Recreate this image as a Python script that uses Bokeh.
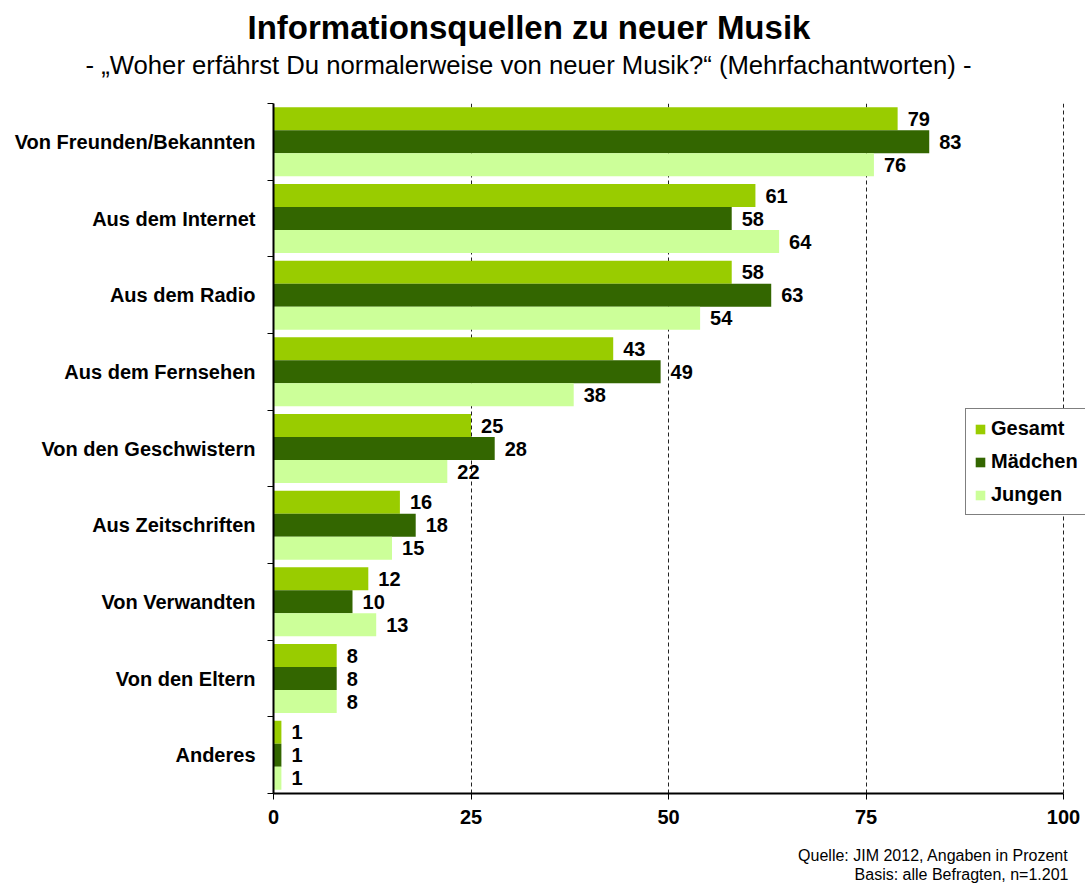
from bokeh.plotting import figure
from bokeh.models import Range1d, FixedTicker, Legend, LegendItem, ColumnDataSource, Title
from bokeh.transform import dodge
from bokeh.core.properties import value
from bokeh.embed import file_html
from bokeh.resources import INLINE

categories = ["Von Freunden/Bekannten", "Aus dem Internet", "Aus dem Radio",
              "Aus dem Fernsehen", "Von den Geschwistern", "Aus Zeitschriften",
              "Von Verwandten", "Von den Eltern", "Anderes"]
gesamt = [79, 61, 58, 43, 25, 16, 12, 8, 1]
maedchen = [83, 58, 63, 49, 28, 18, 10, 8, 1]
jungen = [76, 64, 54, 38, 22, 15, 13, 8, 1]
series_names = ["Gesamt", "Mädchen", "Jungen"]
series_colors = ["#99CC00", "#336600", "#CCFF99"]
x_ticks = [0, 25, 50, 75, 100]

title_text = "Informationsquellen zu neuer Musik"
subtitle_text = "- \u201eWoher erfährst Du normalerweise von neuer Musik?\u201c (Mehrfachantworten) -"
source_text = "Quelle: JIM 2012, Angaben in Prozent"
basis_text = "Basis: alle Befragten, n=1.201"

FONT = "Liberation Sans"
n = len(categories)
centers = [i + 0.5 for i in range(n)]

p = figure(width=1085, height=886, output_backend="svg", toolbar_location=None,
           x_range=Range1d(0, 102.78), y_range=Range1d(n, 0),
           min_border_left=273, min_border_right=0, min_border_top=103,
           min_border_bottom=93)
p.outline_line_color = None
p.background_fill_color = "white"
p.border_fill_color = "white"

# x axis
p.xaxis.ticker = FixedTicker(ticks=x_ticks)
p.xaxis.bounds = (0, 100)
p.xaxis.axis_line_width = 2
p.xaxis.axis_line_color = "black"
p.xaxis.major_tick_line_color = "black"
p.xaxis.major_tick_line_width = 1
p.xaxis.major_tick_out = 6
p.xaxis.major_tick_in = 0
p.xaxis.minor_tick_line_color = None
p.xaxis.major_label_text_font = FONT
p.xaxis.major_label_text_font_style = "bold"
p.xaxis.major_label_text_font_size = "20px"
p.xaxis.major_label_text_color = "black"
p.xaxis.major_label_standoff = 10

# y axis
p.yaxis.ticker = FixedTicker(ticks=centers, minor_ticks=list(range(n + 1)))
p.yaxis.major_label_overrides = {c: lab for c, lab in zip(centers, categories)}
p.yaxis.axis_line_width = 2
p.yaxis.axis_line_color = "black"
p.yaxis.major_tick_line_color = None
p.yaxis.major_tick_out = 0
p.yaxis.major_tick_in = 0
p.yaxis.minor_tick_line_color = "black"
p.yaxis.minor_tick_out = 6
p.yaxis.minor_tick_in = 0
p.yaxis.major_label_text_font = FONT
p.yaxis.major_label_text_font_style = "bold"
p.yaxis.major_label_text_font_size = "20px"
p.yaxis.major_label_text_color = "black"
p.yaxis.major_label_standoff = 12

# grid
p.ygrid.grid_line_color = None
p.xgrid.ticker = FixedTicker(ticks=x_ticks[1:])
p.xgrid.grid_line_color = "#222222"
p.xgrid.grid_line_dash = "4 3"
p.xgrid.grid_line_width = 1

offsets = [-0.3, 0.0, 0.3]
items = []
for name, vals, col, off in zip(series_names, [gesamt, maedchen, jungen], series_colors, offsets):
    src = ColumnDataSource(dict(y=centers, v=vals, t=[str(v) for v in vals]))
    r = p.hbar(y=dodge("y", off), right="v", left=0, height=0.3, source=src,
               fill_color=col, line_color=None)
    p.text(x="v", y=dodge("y", off), text="t", source=src, x_offset=10,
           text_baseline="middle", text_align="left", text_font=value(FONT),
           text_font_style="bold", text_font_size="20px", text_color="black")
    items.append(LegendItem(label=name, renderers=[r]))

legend = Legend(items=items, location=(692, 278), orientation="vertical",
                glyph_width=12, glyph_height=12, label_standoff=5,
                label_text_font=FONT, label_text_font_style="bold",
                label_text_font_size="20px", label_text_color="black",
                label_height=20, spacing=10, padding=8, margin=0,
                border_line_color="black", border_line_width=1,
                background_fill_color="white", background_fill_alpha=1)
p.add_layout(legend, "center")

# panels "above": first added is nearest to the plot
p.add_layout(Title(text=" ", text_font_size="2px", standoff=19), "above")
p.add_layout(Title(text=subtitle_text, align="left", offset=-188, vertical_align="top",
                   text_font=FONT, text_font_style="normal",
                   text_font_size="25.7px", text_color="black", standoff=0), "above")
p.add_layout(Title(text=title_text, align="left", offset=-26,
                   text_font=FONT, text_font_style="bold",
                   text_font_size="33px", text_color="black", standoff=10), "above")

# panels "below": after the x axis, outward
p.add_layout(Title(text=" ", text_font_size="2px", standoff=14), "below")
p.add_layout(Title(text=source_text, align="right", offset=17,
                   text_font=FONT, text_font_style="normal",
                   text_font_size="16px", text_color="black", standoff=0), "below")
p.add_layout(Title(text=basis_text, align="right", offset=17,
                   text_font=FONT, text_font_style="normal",
                   text_font_size="16px", text_color="black", standoff=0), "below")

open("out.html", "w").write(file_html(p, INLINE))
